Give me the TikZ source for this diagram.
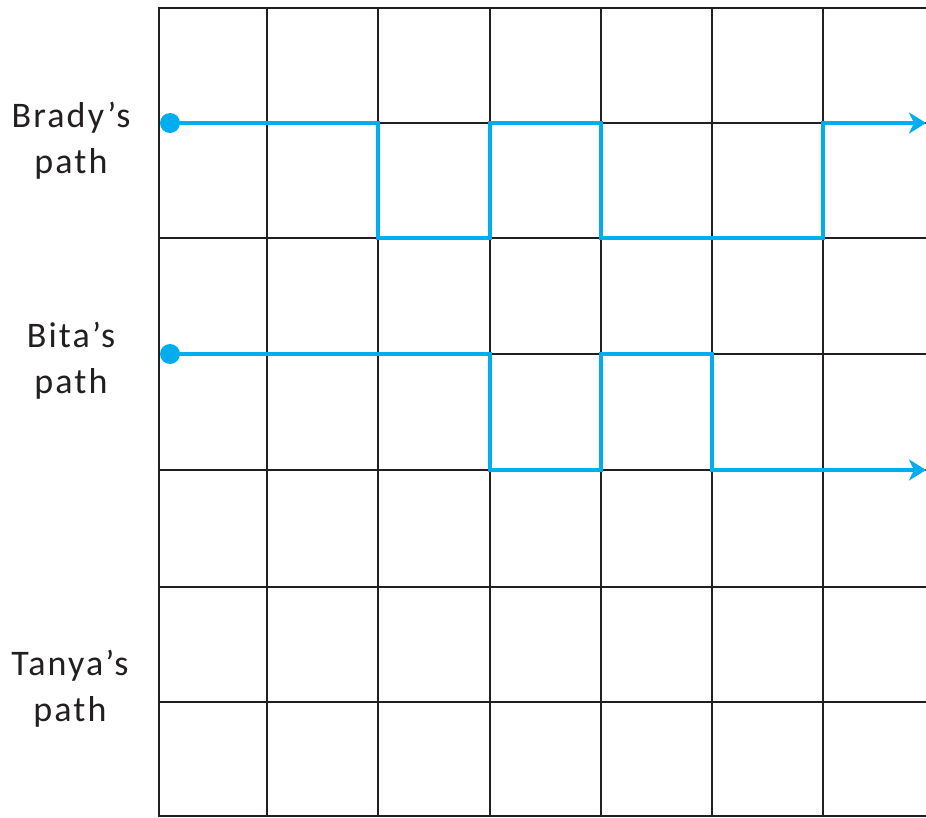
\documentclass[tikz,border=0pt]{standalone}
\usepackage{fontspec}
\setmainfont[LetterSpace=6]{Carlito}
\usetikzlibrary{arrows.meta}
\definecolor{gridc}{HTML}{231F20}
\definecolor{pathc}{HTML}{00AEEF}
\tikzset{
  gridline/.style={draw=gridc, line width=2.8pt},
  walk/.style={draw=pathc, line width=4.8pt, line join=miter,
    -{Stealth[length=17pt, width=21pt, inset=5pt]}},
  startdot/.style={circle, fill=pathc, inner sep=0pt, minimum size=20pt},
  lbl/.style={align=center, font=\fontsize{36pt}{46pt}\selectfont, text=gridc}
}
\begin{document}
\begin{tikzpicture}[x=1pt, y=-1pt]
\useasboundingbox (0,0) rectangle (926,817);
\begin{scope}
\clip (0,0) rectangle (926,817);
% vertical lines
\foreach \x in {159,267,378,490,601,712,823}
  \draw[gridline] (\x,6.6) -- (\x,817);
% horizontal lines
\foreach \y in {8,123,238,354,470,587,702,816}
  \draw[gridline] (157.6,\y) -- (930,\y);
% paths
\draw[walk] (170,123) -- (378,123) -- (378,238) -- (490,238) -- (490,123)
  -- (601,123) -- (601,238) -- (823,238) -- (823,123) -- (926,123);
\draw[walk] (170,354) -- (490,354) -- (490,470) -- (601,470) -- (601,354)
  -- (712,354) -- (712,470) -- (926,470);
\end{scope}
\node[startdot] (bradystart) at (170,123) {};
\node[startdot] (bitastart) at (170,354) {};
\node[lbl] (brady) at (71,141) {Brady’s\\path};
\node[lbl] (bita) at (71,361) {Bita’s\\path};
\node[lbl] (tanya) at (70,689) {Tanya’s\\path};
\end{tikzpicture}
\end{document}
